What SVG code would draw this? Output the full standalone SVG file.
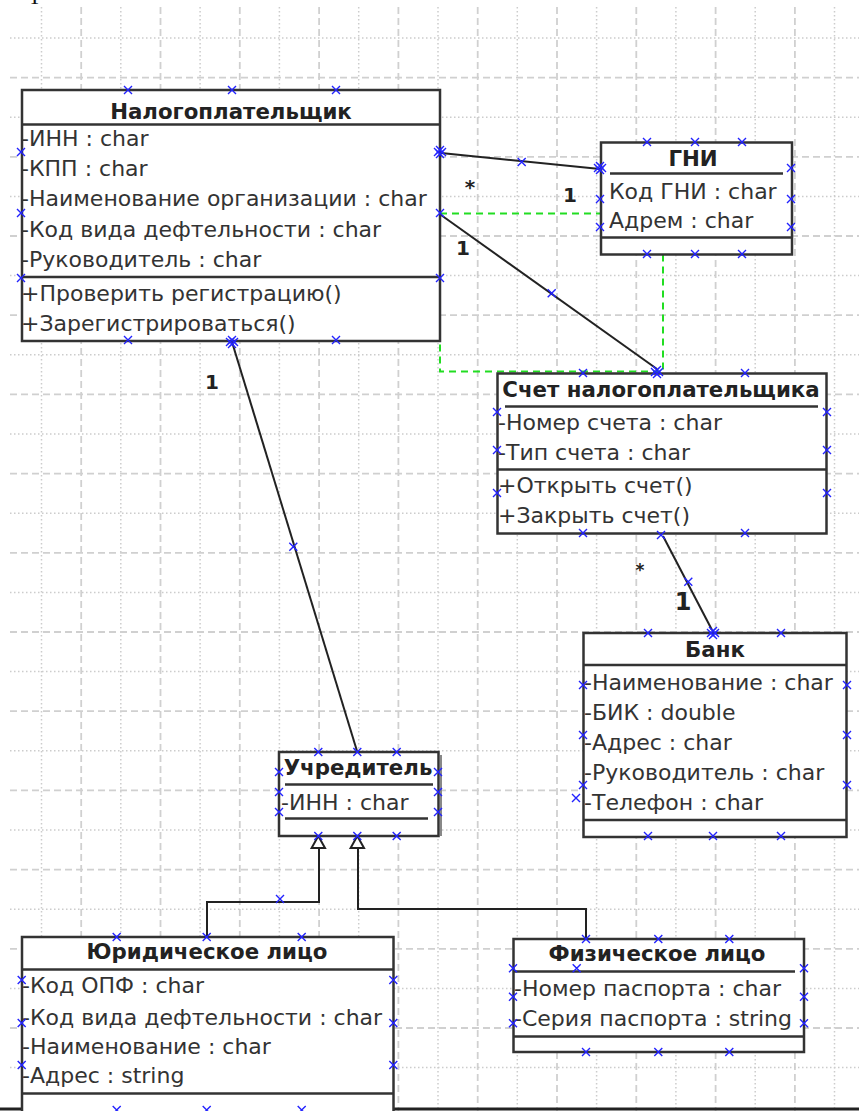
<svg xmlns="http://www.w3.org/2000/svg" xmlns:xlink="http://www.w3.org/1999/xlink" width="859" height="1111" viewBox="0 0 859 1111">
  <defs>
    <style>
      .grid-dot { stroke: #cccccc; stroke-width: 1.5; stroke-dasharray: 1.5 2.5; fill: none; }
      .grid-dash { stroke: #d0d0d0; stroke-width: 1.8; stroke-dasharray: 7 4; fill: none; }
      .box { fill: #ffffff; stroke: #333333; stroke-width: 2.5; }
      .sep { stroke: #333333; stroke-width: 2.5; fill: none; }
      .title { font-family: "DejaVu Sans", sans-serif; font-size: 21.3px; font-weight: bold; fill: #222222; text-anchor: middle; }
      .attr { font-family: "DejaVu Sans", sans-serif; font-size: 22px; fill: #333333; }
      .mult { font-family: "DejaVu Sans", sans-serif; font-size: 20px; font-weight: bold; fill: #222222; text-anchor: middle; }
      .link { stroke: #222222; stroke-width: 2; fill: none; }
      .sel { stroke: #22dd22; stroke-width: 2; stroke-dasharray: 7 5; fill: none; }
      .gen { fill: #ffffff; stroke: #222222; stroke-width: 2; }
    </style>
    <!-- connection point cross -->
    <path id="x" d="M-4,-4 L4,4 M-4,4 L4,-4" stroke="#2222ff" stroke-width="1.4" fill="none"/>
    <g id="xx">
      <use xlink:href="#x" x="-2" y="0"/>
      <use xlink:href="#x" x="2" y="0"/>
      <use xlink:href="#x" x="0" y="-2"/>
      <use xlink:href="#x" x="0" y="2"/>
    </g>
  </defs>

  <rect width="859" height="1111" fill="#ffffff"/>

  <!-- background grid -->
  <g id="grid">
    <path class="grid-dot" d="M41.5,7V1111 M120.8,7V1111 M200.1,7V1111 M279.4,7V1111 M358.7,7V1111 M438,7V1111 M517.3,7V1111 M596.6,7V1111 M675.9,7V1111 M755.2,7V1111 M834.5,7V1111"/>
    <path class="grid-dash" d="M81.2,7V1111 M160.5,7V1111 M239.8,7V1111 M319.1,7V1111 M398.4,7V1111 M477.7,7V1111 M557,7V1111 M636.3,7V1111 M715.6,7V1111 M794.9,7V1111"/>
    <path class="grid-dot" d="M10,38H859 M10,117.2H859 M10,196.4H859 M10,275.6H859 M10,354.8H859 M10,434H859 M10,513.2H859 M10,592.4H859 M10,671.6H859 M10,750.8H859 M10,830H859 M10,909.2H859 M10,988.4H859 M10,1067.6H859"/>
    <path class="grid-dash" d="M10,77.6H859 M10,156.8H859 M10,236H859 M10,315.2H859 M10,394.4H859 M10,473.6H859 M10,552.8H859 M10,632H859 M10,711.2H859 M10,790.4H859 M10,869.6H859 M10,948.8H859 M10,1028H859"/>
  </g>

  <!-- page edges -->
  <text x="28" y="4" font-family="Liberation Serif, serif" font-size="22" fill="#111111">Т</text>
  <line x1="0" y1="1109" x2="859" y2="1109" stroke="#222222" stroke-width="3"/>

  <!-- connectors -->
  <g id="connectors">
    <rect class="sel" x="440" y="213.5" width="223" height="158"/>
    <line class="link" x1="441" y1="153" x2="600" y2="169"/>
    <line class="link" x1="441" y1="215" x2="657" y2="369"/>
    <line class="link" x1="232" y1="342" x2="357" y2="751"/>
    <line class="link" x1="663" y1="536" x2="712" y2="630"/>
    <polyline class="link" points="319,848 319,902 207,902 207,937"/>
    <polyline class="link" points="358,848 358,909 586,909 586,939"/>
    <path class="gen" d="M318.3,836 L325,848 L311.6,848 Z"/>
    <path class="gen" d="M357.3,836 L364,848 L350.6,848 Z"/>
    <use xlink:href="#x" x="521.7" y="162"/>
    <use xlink:href="#x" x="551.7" y="293.3"/>
    <use xlink:href="#x" x="293.3" y="546.7"/>
    <use xlink:href="#x" x="688.3" y="581.7"/>
    <use xlink:href="#x" x="280" y="899"/>
    <text class="mult" x="470" y="194">*</text>
    <text class="mult" x="570" y="202">1</text>
    <text class="mult" x="463" y="255">1</text>
    <text class="mult" x="212" y="389">1</text>
    <text class="mult" x="640" y="576" style="font-size:17px">*</text>
    <text class="mult" x="683" y="610" style="font-size:24px">1</text>
  </g>

  <!-- Налогоплательщик -->
  <g id="taxpayer">
    <rect class="box" x="22" y="90" width="418" height="251"/>
    <line class="sep" x1="22" y1="124.5" x2="440" y2="124.5"/>
    <line class="sep" x1="22" y1="277" x2="440" y2="277"/>
    <text class="title" x="231" y="119">Налогоплательщик</text>
    <text class="attr" x="21" y="146">-ИНН : char</text>
    <text class="attr" x="21" y="176">-КПП : char</text>
    <text class="attr" x="21" y="206">-Наименование организации : char</text>
    <text class="attr" x="21" y="237">-Код вида дефтельности : char</text>
    <text class="attr" x="21" y="267">-Руководитель : char</text>
    <text class="attr" x="21" y="301">+Проверить регистрацию()</text>
    <text class="attr" x="21" y="331">+Зарегистрироваться()</text>
    <use xlink:href="#x" x="128" y="90"/>
    <use xlink:href="#x" x="232" y="90"/>
    <use xlink:href="#x" x="336" y="90"/>
    <use xlink:href="#x" x="21" y="152"/>
    <use xlink:href="#x" x="21" y="213"/>
    <use xlink:href="#x" x="21" y="278"/>
    <use xlink:href="#xx" x="440" y="152"/>
    <use xlink:href="#x" x="440" y="213"/>
    <use xlink:href="#x" x="440" y="278"/>
    <use xlink:href="#x" x="128" y="340"/>
    <use xlink:href="#xx" x="232" y="342"/>
    <use xlink:href="#x" x="336" y="340"/>
  </g>

  <!-- ГНИ -->
  <g id="gni">
    <rect class="box" x="601" y="142.5" width="191" height="112"/>
    <line class="sep" x1="610" y1="173.5" x2="783" y2="173.5"/>
    <line class="sep" x1="601" y1="237.5" x2="792" y2="237.5"/>
    <text class="title" x="693" y="166">ГНИ</text>
    <text class="attr" x="609" y="199">Код ГНИ : char</text>
    <text class="attr" x="609" y="228">Адрем : char</text>
    <use xlink:href="#x" x="647" y="142"/>
    <use xlink:href="#x" x="695" y="142"/>
    <use xlink:href="#x" x="742" y="142"/>
    <use xlink:href="#xx" x="600" y="168"/>
    <use xlink:href="#x" x="600" y="199"/>
    <use xlink:href="#x" x="600" y="227"/>
    <use xlink:href="#x" x="791" y="168"/>
    <use xlink:href="#x" x="791" y="199"/>
    <use xlink:href="#x" x="791" y="227"/>
    <use xlink:href="#x" x="647" y="254"/>
    <use xlink:href="#x" x="695" y="254"/>
    <use xlink:href="#x" x="742" y="254"/>
  </g>

  <!-- Счет налогоплательщика -->
  <g id="account">
    <rect class="box" x="497.5" y="373.5" width="329" height="160"/>
    <line class="sep" x1="505" y1="406.5" x2="818" y2="406.5"/>
    <line class="sep" x1="497.5" y1="469.5" x2="826.5" y2="469.5"/>
    <text class="title" x="661" y="397">Счет налогоплательщика</text>
    <text class="attr" x="498" y="430">-Номер счета : char</text>
    <text class="attr" x="498" y="460">-Тип счета : char</text>
    <text class="attr" x="498" y="493">+Открыть счет()</text>
    <text class="attr" x="498" y="523">+Закрыть счет()</text>
    <use xlink:href="#x" x="583" y="373"/>
    <use xlink:href="#xx" x="657" y="372"/>
    <use xlink:href="#x" x="745" y="373"/>
    <use xlink:href="#x" x="497" y="412"/>
    <use xlink:href="#x" x="497" y="450"/>
    <use xlink:href="#x" x="497" y="493"/>
    <use xlink:href="#x" x="827" y="412"/>
    <use xlink:href="#x" x="827" y="450"/>
    <use xlink:href="#x" x="827" y="493"/>
    <use xlink:href="#x" x="583" y="533"/>
    <use xlink:href="#x" x="661" y="535"/>
    <use xlink:href="#x" x="745" y="533"/>
  </g>

  <!-- Банк -->
  <g id="bank">
    <rect class="box" x="583.5" y="633" width="263" height="204"/>
    <line class="sep" x1="583.5" y1="665" x2="846.5" y2="665"/>
    <line class="sep" x1="583.5" y1="820" x2="846.5" y2="820"/>
    <text class="title" x="715" y="657">Банк</text>
    <text class="attr" x="584" y="690">-Наименование : char</text>
    <text class="attr" x="584" y="720">-БИК : double</text>
    <text class="attr" x="584" y="750">-Адрес : char</text>
    <text class="attr" x="584" y="780">-Руководитель : char</text>
    <text class="attr" x="584" y="810">-Телефон : char</text>
    <use xlink:href="#x" x="648" y="633"/>
    <use xlink:href="#xx" x="713" y="633"/>
    <use xlink:href="#x" x="781" y="633"/>
    <use xlink:href="#x" x="583" y="685"/>
    <use xlink:href="#x" x="583" y="735"/>
    <use xlink:href="#x" x="583" y="785"/>
    <use xlink:href="#x" x="576" y="798"/>
    <use xlink:href="#x" x="847" y="685"/>
    <use xlink:href="#x" x="847" y="735"/>
    <use xlink:href="#x" x="847" y="785"/>
    <use xlink:href="#x" x="648" y="836"/>
    <use xlink:href="#x" x="713" y="836"/>
    <use xlink:href="#x" x="781" y="836"/>
  </g>

  <!-- Учредитель -->
  <g id="founder">
    <rect class="box" x="279" y="752" width="159.5" height="84"/>
    <line x1="441" y1="755" x2="441" y2="836" stroke="#888888" stroke-width="2"/>
    <line class="sep" x1="285" y1="784.5" x2="433" y2="784.5"/>
    <line class="sep" x1="285" y1="818.5" x2="428" y2="818.5"/>
    <text class="title" x="358" y="775">Учредитель</text>
    <text class="attr" x="281" y="810">-ИНН : char</text>
    <use xlink:href="#x" x="318.3" y="752"/>
    <use xlink:href="#x" x="357.3" y="752"/>
    <use xlink:href="#x" x="396.7" y="752"/>
    <use xlink:href="#x" x="279" y="772"/>
    <use xlink:href="#x" x="279" y="792"/>
    <use xlink:href="#x" x="279" y="812"/>
    <use xlink:href="#x" x="438" y="772"/>
    <use xlink:href="#x" x="438" y="792"/>
    <use xlink:href="#x" x="438" y="812"/>
    <use xlink:href="#x" x="318.3" y="836"/>
    <use xlink:href="#x" x="357.3" y="836"/>
    <use xlink:href="#x" x="396.7" y="836"/>
  </g>

  <!-- Юридическое лицо -->
  <g id="legal-entity">
    <rect class="box" x="22" y="937" width="371.5" height="185"/>
    <line class="sep" x1="22" y1="969.5" x2="393.5" y2="969.5"/>
    <line class="sep" x1="22" y1="1093.5" x2="393.5" y2="1093.5"/>
    <text class="title" x="207" y="959">Юридическое лицо</text>
    <text class="attr" x="22" y="993">-Код ОПФ : char</text>
    <text class="attr" x="22" y="1025">-Код вида дефтельности : char</text>
    <text class="attr" x="22" y="1054">-Наименование : char</text>
    <text class="attr" x="22" y="1083">-Адрес : string</text>
    <use xlink:href="#x" x="116.7" y="937"/>
    <use xlink:href="#x" x="206.7" y="937"/>
    <use xlink:href="#x" x="301.7" y="937"/>
    <use xlink:href="#x" x="21.7" y="980"/>
    <use xlink:href="#x" x="21.7" y="1023"/>
    <use xlink:href="#x" x="21.7" y="1065"/>
    <use xlink:href="#x" x="393.3" y="980"/>
    <use xlink:href="#x" x="393.3" y="1023"/>
    <use xlink:href="#x" x="393.3" y="1065"/>
    <use xlink:href="#x" x="116.7" y="1110"/>
    <use xlink:href="#x" x="206.7" y="1110"/>
    <use xlink:href="#x" x="301.7" y="1110"/>
  </g>

  <!-- Физическое лицо -->
  <g id="individual">
    <rect class="box" x="513.5" y="939" width="290.5" height="113"/>
    <line class="sep" x1="513.5" y1="971.5" x2="795" y2="971.5"/>
    <line class="sep" x1="513.5" y1="1036.5" x2="804" y2="1036.5"/>
    <text class="title" x="657" y="961">Физическое лицо</text>
    <text class="attr" x="514" y="996">-Номер паспорта : char</text>
    <text class="attr" x="514" y="1026">-Серия паспорта : string</text>
    <use xlink:href="#x" x="586" y="939"/>
    <use xlink:href="#x" x="658.3" y="939"/>
    <use xlink:href="#x" x="729.3" y="939"/>
    <use xlink:href="#x" x="513" y="968.3"/>
    <use xlink:href="#x" x="576.7" y="968.3"/>
    <use xlink:href="#x" x="513" y="996.7"/>
    <use xlink:href="#x" x="513" y="1023.3"/>
    <use xlink:href="#x" x="804" y="968.3"/>
    <use xlink:href="#x" x="804" y="996.7"/>
    <use xlink:href="#x" x="804" y="1023.3"/>
    <use xlink:href="#x" x="586" y="1052"/>
    <use xlink:href="#x" x="658.3" y="1052"/>
    <use xlink:href="#x" x="729.3" y="1052"/>
  </g>
</svg>
